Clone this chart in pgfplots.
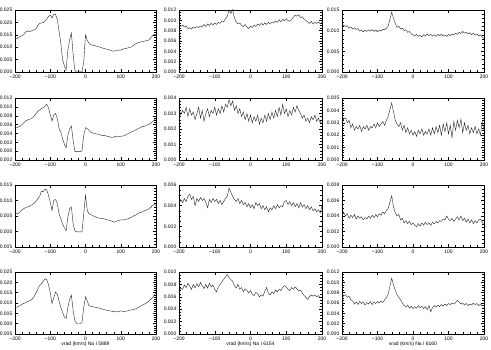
\documentclass[border=0pt]{standalone}
\usepackage{fontspec}
\setmainfont{Liberation Sans}
\usepackage{pgfplots}
\pgfplotsset{compat=1.18}

\pgfplotsset{
  panel/.style={
    scale only axis, height=62pt,
    xmin=-200, xmax=200,
    xtick={-200,-100,0,100,200},
    xticklabels={−200,−100,0,100,200},
    minor x tick num=4, minor y tick num=4,
    tick align=inside,
    major tick length=3pt, minor tick length=1.5pt,
    tick style={line width=0.35pt, black},
    axis line style={line width=0.5pt, black},
    /pgf/number format/assume math mode=true,
    ticklabel style={font=\fontsize{5}{6}\selectfont, inner sep=0pt},
    xticklabel shift=3.2pt, yticklabel shift=2.5pt,
    yticklabel style={/pgf/number format/.cd, fixed, fixed zerofill, precision=3},
    scaled y ticks=false,
    xlabel style={font=\fontsize{5}{6}\selectfont, at={(axis description cs:0.5,0)}, anchor=center, yshift=-10pt},
    cycle list={{black!85, line width=0.45pt, mark=none}},
  },
  c1/.style={panel, width=141pt},
  c2/.style={panel, width=143pt},
  c3/.style={panel, width=142pt},
}

\begin{document}
\begin{tikzpicture}
\path[use as bounding box] (0pt,0pt) rectangle (491pt,-350pt);

% ---------- row 1 ----------
\begin{axis}[c1, at={(15pt,-10pt)}, anchor=north west,
  ymin=0, ymax=0.025, ytick={0,0.005,0.01,0.015,0.02,0.025}]
\addplot coordinates {(-200,0.0136) (-195,0.0134) (-190,0.0140) (-185,0.0143) (-180,0.0146) (-175,0.0152) (-170,0.0160) (-165,0.0166) (-160,0.0162) (-155,0.0165) (-150,0.0168) (-145,0.0170) (-140,0.0175) (-135,0.0188) (-130,0.0196) (-125,0.0198) (-120,0.0199) (-115,0.0206) (-110,0.0213) (-105,0.0224) (-100,0.0229) (-95,0.0218) (-90,0.0234) (-85,0.0232) (-80,0.0212) (-75,0.0165) (-70,0.0115) (-65,0.0050) (-60,0.0025) (-55,0.0008) (-50,0.0088) (-45,0.0130) (-40,0.0157) (-35,0.0070) (-30,0.0005) (-25,0.0000) (-20,0.0000) (-15,0.0001) (-10,0.0000) (-5,0.0040) (0,0.0150) (5,0.0128) (10,0.0116) (15,0.0110) (20,0.0108) (25,0.0107) (30,0.0105) (35,0.0102) (40,0.0101) (45,0.0098) (50,0.0096) (55,0.0094) (60,0.0092) (65,0.0090) (70,0.0088) (75,0.0085) (80,0.0084) (85,0.0086) (90,0.0085) (95,0.0089) (100,0.0088) (105,0.0091) (110,0.0094) (115,0.0095) (120,0.0097) (125,0.0099) (130,0.0101) (135,0.0106) (140,0.0112) (145,0.0116) (150,0.0118) (155,0.0121) (160,0.0122) (165,0.0124) (170,0.0125) (175,0.0127) (180,0.0129) (185,0.0138) (190,0.0146) (195,0.0152) (200,0.0150)};
\end{axis}

\begin{axis}[c2, at={(179pt,-10pt)}, anchor=north west,
  ymin=0, ymax=0.012, ytick={0,0.002,0.004,0.006,0.008,0.01,0.012}, minor y tick num=3]
\addplot coordinates {(-200,0.0093) (-195,0.0088) (-190,0.0091) (-185,0.0087) (-180,0.0089) (-175,0.0084) (-170,0.0086) (-165,0.0083) (-160,0.0087) (-155,0.0085) (-150,0.0088) (-145,0.0086) (-140,0.0089) (-135,0.0087) (-130,0.0092) (-125,0.0088) (-120,0.0093) (-115,0.0090) (-110,0.0094) (-105,0.0091) (-100,0.0095) (-95,0.0092) (-90,0.0096) (-85,0.0094) (-80,0.0099) (-75,0.0097) (-70,0.0103) (-65,0.0108) (-60,0.0120) (-55,0.0113) (-50,0.0121) (-45,0.0105) (-40,0.0097) (-35,0.0093) (-30,0.0095) (-25,0.0090) (-20,0.0088) (-15,0.0092) (-10,0.0087) (-5,0.0084) (0,0.0089) (5,0.0086) (10,0.0091) (15,0.0088) (20,0.0093) (25,0.0090) (30,0.0094) (35,0.0091) (40,0.0095) (45,0.0092) (50,0.0096) (55,0.0093) (60,0.0097) (65,0.0095) (70,0.0099) (75,0.0096) (80,0.0101) (85,0.0097) (90,0.0102) (95,0.0099) (100,0.0103) (105,0.0100) (110,0.0098) (115,0.0102) (120,0.0106) (125,0.0110) (130,0.0108) (135,0.0111) (140,0.0105) (145,0.0107) (150,0.0102) (155,0.0100) (160,0.0097) (165,0.0094) (170,0.0098) (175,0.0093) (180,0.0096) (185,0.0094) (190,0.0097) (195,0.0093) (200,0.0096)};
\end{axis}

\begin{axis}[c3, at={(342pt,-10pt)}, anchor=north west,
  ymin=0, ymax=0.015, ytick={0,0.005,0.01,0.015}]
\addplot coordinates {(-200,0.0105) (-195,0.0113) (-190,0.0110) (-185,0.0112) (-180,0.0106) (-175,0.0109) (-170,0.0104) (-165,0.0107) (-160,0.0103) (-155,0.0105) (-150,0.0099) (-145,0.0102) (-140,0.0097) (-135,0.0101) (-130,0.0098) (-125,0.0102) (-120,0.0099) (-115,0.0103) (-110,0.0098) (-105,0.0102) (-100,0.0097) (-95,0.0101) (-90,0.0099) (-85,0.0104) (-80,0.0102) (-75,0.0106) (-70,0.0111) (-65,0.0128) (-60,0.0145) (-55,0.0130) (-50,0.0118) (-45,0.0108) (-40,0.0111) (-35,0.0104) (-30,0.0106) (-25,0.0100) (-20,0.0102) (-15,0.0096) (-10,0.0098) (-5,0.0092) (0,0.0090) (5,0.0087) (10,0.0091) (15,0.0086) (20,0.0089) (25,0.0085) (30,0.0090) (35,0.0087) (40,0.0092) (45,0.0088) (50,0.0091) (55,0.0087) (60,0.0090) (65,0.0086) (70,0.0091) (75,0.0088) (80,0.0092) (85,0.0087) (90,0.0090) (95,0.0086) (100,0.0091) (105,0.0088) (110,0.0092) (115,0.0089) (120,0.0094) (125,0.0091) (130,0.0096) (135,0.0093) (140,0.0098) (145,0.0094) (150,0.0096) (155,0.0092) (160,0.0095) (165,0.0090) (170,0.0094) (175,0.0089) (180,0.0092) (185,0.0087) (190,0.0090) (195,0.0085) (200,0.0080)};
\end{axis}

% ---------- row 2 ----------
\begin{axis}[c1, at={(15pt,-98pt)}, anchor=north west,
  ymin=-0.002, ymax=0.012, ytick={-0.002,0,0.002,0.004,0.006,0.008,0.01,0.012}, minor y tick num=3]
\addplot coordinates {(-200,0.0052) (-195,0.0053) (-190,0.0055) (-185,0.0057) (-180,0.0060) (-175,0.0064) (-170,0.0068) (-165,0.0070) (-160,0.0072) (-155,0.0073) (-150,0.0075) (-145,0.0080) (-140,0.0085) (-135,0.0090) (-130,0.0093) (-125,0.0096) (-120,0.0098) (-115,0.0101) (-110,0.0106) (-105,0.0098) (-100,0.0082) (-95,0.0068) (-90,0.0082) (-85,0.0085) (-80,0.0074) (-75,0.0051) (-70,0.0043) (-65,0.0028) (-60,0.0016) (-55,0.0008) (-50,0.0035) (-45,0.0051) (-40,0.0057) (-35,0.0024) (-30,-0.0001) (-25,-0.0001) (-20,-0.0001) (-15,-0.0001) (-10,0.0001) (-5,0.0035) (0,0.0053) (5,0.0051) (10,0.0047) (15,0.0043) (20,0.0041) (25,0.0040) (30,0.0039) (35,0.0038) (40,0.0037) (45,0.0036) (50,0.0035) (55,0.0035) (60,0.0034) (65,0.0033) (70,0.0032) (75,0.0031) (80,0.0032) (85,0.0034) (90,0.0033) (95,0.0032) (100,0.0034) (105,0.0034) (110,0.0035) (115,0.0037) (120,0.0039) (125,0.0041) (130,0.0043) (135,0.0045) (140,0.0047) (145,0.0049) (150,0.0051) (155,0.0053) (160,0.0055) (165,0.0056) (170,0.0057) (175,0.0059) (180,0.0060) (185,0.0063) (190,0.0066) (195,0.0070) (200,0.0074)};
\end{axis}

\begin{axis}[c2, at={(179pt,-98pt)}, anchor=north west,
  ymin=0, ymax=0.004, ytick={0,0.001,0.002,0.003,0.004}]
\addplot coordinates {(-200,0.0034) (-195,0.0029) (-190,0.0032) (-185,0.0030) (-180,0.0034) (-175,0.0028) (-170,0.0033) (-165,0.0029) (-160,0.0031) (-155,0.0026) (-150,0.0030) (-145,0.0034) (-140,0.0027) (-135,0.0032) (-130,0.0025) (-125,0.0030) (-120,0.0033) (-115,0.0028) (-110,0.0032) (-105,0.0030) (-100,0.0034) (-95,0.0029) (-90,0.0033) (-85,0.0030) (-80,0.0035) (-75,0.0031) (-70,0.0036) (-65,0.0034) (-60,0.0039) (-55,0.0035) (-50,0.0038) (-45,0.0032) (-40,0.0035) (-35,0.0030) (-30,0.0033) (-25,0.0028) (-20,0.0031) (-15,0.0026) (-10,0.0030) (-5,0.0025) (0,0.0029) (5,0.0024) (10,0.0028) (15,0.0025) (20,0.0029) (25,0.0023) (30,0.0027) (35,0.0024) (40,0.0029) (45,0.0025) (50,0.0030) (55,0.0026) (60,0.0031) (65,0.0027) (70,0.0032) (75,0.0028) (80,0.0034) (85,0.0029) (90,0.0036) (95,0.0030) (100,0.0033) (105,0.0028) (110,0.0032) (115,0.0029) (120,0.0034) (125,0.0031) (130,0.0035) (135,0.0032) (140,0.0030) (145,0.0027) (150,0.0029) (155,0.0025) (160,0.0027) (165,0.0024) (170,0.0028) (175,0.0026) (180,0.0029) (185,0.0025) (190,0.0027) (195,0.0024) (200,0.0026)};
\end{axis}

\begin{axis}[c3, at={(342pt,-98pt)}, anchor=north west,
  ymin=0, ymax=0.005, ytick={0,0.001,0.002,0.003,0.004,0.005}]
\addplot coordinates {(-200,0.0031) (-195,0.0033) (-190,0.0034) (-185,0.0030) (-180,0.0032) (-175,0.0026) (-170,0.0029) (-165,0.0024) (-160,0.0027) (-155,0.0025) (-150,0.0028) (-145,0.0023) (-140,0.0027) (-135,0.0025) (-130,0.0028) (-125,0.0024) (-120,0.0027) (-115,0.0026) (-110,0.0029) (-105,0.0026) (-100,0.0030) (-95,0.0027) (-90,0.0029) (-85,0.0031) (-80,0.0028) (-75,0.0032) (-70,0.0035) (-65,0.0041) (-60,0.0046) (-55,0.0039) (-50,0.0032) (-45,0.0029) (-40,0.0027) (-35,0.0030) (-30,0.0024) (-25,0.0028) (-20,0.0022) (-15,0.0026) (-10,0.0021) (-5,0.0024) (0,0.0020) (5,0.0023) (10,0.0019) (15,0.0024) (20,0.0021) (25,0.0025) (30,0.0020) (35,0.0023) (40,0.0021) (45,0.0025) (50,0.0020) (55,0.0026) (60,0.0021) (65,0.0027) (70,0.0022) (75,0.0028) (80,0.0020) (85,0.0029) (90,0.0023) (95,0.0030) (100,0.0021) (105,0.0028) (110,0.0018) (115,0.0031) (120,0.0024) (125,0.0032) (130,0.0026) (135,0.0033) (140,0.0022) (145,0.0030) (150,0.0024) (155,0.0028) (160,0.0021) (165,0.0026) (170,0.0022) (175,0.0027) (180,0.0021) (185,0.0025) (190,0.0020) (195,0.0031) (200,0.0024)};
\end{axis}

% ---------- row 3 ----------
\begin{axis}[c1, at={(15pt,-185pt)}, anchor=north west,
  ymin=-0.005, ymax=0.015, ytick={-0.005,0,0.005,0.01,0.015}]
\addplot coordinates {(-200,0.0057) (-195,0.0058) (-190,0.0059) (-185,0.0064) (-180,0.0070) (-175,0.0074) (-170,0.0077) (-165,0.0079) (-160,0.0081) (-155,0.0084) (-150,0.0087) (-145,0.0092) (-140,0.0098) (-135,0.0106) (-130,0.0114) (-125,0.0131) (-120,0.0128) (-115,0.0137) (-110,0.0134) (-105,0.0117) (-100,0.0095) (-95,0.0068) (-90,0.0101) (-85,0.0103) (-80,0.0090) (-75,0.0057) (-70,0.0041) (-65,0.0024) (-60,0.0013) (-55,0.0002) (-50,0.0046) (-45,0.0073) (-40,0.0079) (-35,0.0024) (-30,0.0002) (-25,-0.0001) (-20,-0.0001) (-15,-0.0001) (-10,-0.0001) (-5,0.0057) (0,0.0117) (5,0.0068) (10,0.0057) (15,0.0054) (20,0.0052) (25,0.0049) (30,0.0046) (35,0.0044) (40,0.0043) (45,0.0042) (50,0.0041) (55,0.0040) (60,0.0038) (65,0.0037) (70,0.0035) (75,0.0033) (80,0.0030) (85,0.0032) (90,0.0034) (95,0.0036) (100,0.0038) (105,0.0037) (110,0.0038) (115,0.0039) (120,0.0041) (125,0.0043) (130,0.0046) (135,0.0049) (140,0.0052) (145,0.0055) (150,0.0059) (155,0.0061) (160,0.0063) (165,0.0066) (170,0.0068) (175,0.0070) (180,0.0073) (185,0.0078) (190,0.0084) (195,0.0087) (200,0.0084)};
\end{axis}

\begin{axis}[c2, at={(179pt,-185pt)}, anchor=north west,
  ymin=0, ymax=0.006, ytick={0,0.002,0.004,0.006}, minor y tick num=3]
\addplot coordinates {(-200,0.0042) (-195,0.0046) (-190,0.0043) (-185,0.0047) (-180,0.0044) (-175,0.0049) (-170,0.0051) (-165,0.0046) (-160,0.0049) (-155,0.0040) (-150,0.0047) (-145,0.0044) (-140,0.0048) (-135,0.0045) (-130,0.0047) (-125,0.0043) (-120,0.0038) (-115,0.0046) (-110,0.0043) (-105,0.0047) (-100,0.0044) (-95,0.0046) (-90,0.0042) (-85,0.0045) (-80,0.0041) (-75,0.0044) (-70,0.0047) (-65,0.0049) (-60,0.0057) (-55,0.0053) (-50,0.0049) (-45,0.0046) (-40,0.0044) (-35,0.0047) (-30,0.0042) (-25,0.0045) (-20,0.0041) (-15,0.0043) (-10,0.0039) (-5,0.0042) (0,0.0038) (5,0.0041) (10,0.0037) (15,0.0043) (20,0.0040) (25,0.0042) (30,0.0037) (35,0.0040) (40,0.0036) (45,0.0039) (50,0.0034) (55,0.0038) (60,0.0036) (65,0.0040) (70,0.0037) (75,0.0041) (80,0.0038) (85,0.0040) (90,0.0039) (95,0.0044) (100,0.0045) (105,0.0041) (110,0.0044) (115,0.0040) (120,0.0043) (125,0.0039) (130,0.0042) (135,0.0038) (140,0.0043) (145,0.0039) (150,0.0041) (155,0.0037) (160,0.0040) (165,0.0036) (170,0.0039) (175,0.0035) (180,0.0037) (185,0.0034) (190,0.0036) (195,0.0033) (200,0.0040)};
\end{axis}

\begin{axis}[c3, at={(342pt,-185pt)}, anchor=north west,
  ymin=0, ymax=0.008, ytick={0,0.002,0.004,0.006,0.008}, minor y tick num=3]
\addplot coordinates {(-200,0.0041) (-195,0.0044) (-190,0.0040) (-185,0.0043) (-180,0.0037) (-175,0.0041) (-170,0.0038) (-165,0.0042) (-160,0.0036) (-155,0.0040) (-150,0.0037) (-145,0.0039) (-140,0.0035) (-135,0.0038) (-130,0.0036) (-125,0.0040) (-120,0.0037) (-115,0.0041) (-110,0.0038) (-105,0.0042) (-100,0.0039) (-95,0.0043) (-90,0.0041) (-85,0.0045) (-80,0.0043) (-75,0.0047) (-70,0.0050) (-65,0.0058) (-60,0.0066) (-55,0.0052) (-50,0.0044) (-45,0.0040) (-40,0.0042) (-35,0.0035) (-30,0.0037) (-25,0.0031) (-20,0.0034) (-15,0.0030) (-10,0.0033) (-5,0.0029) (0,0.0031) (5,0.0028) (10,0.0026) (15,0.0030) (20,0.0027) (25,0.0031) (30,0.0028) (35,0.0032) (40,0.0029) (45,0.0031) (50,0.0028) (55,0.0032) (60,0.0030) (65,0.0033) (70,0.0031) (75,0.0034) (80,0.0033) (85,0.0036) (90,0.0035) (95,0.0040) (100,0.0036) (105,0.0034) (110,0.0037) (115,0.0033) (120,0.0036) (125,0.0039) (130,0.0035) (135,0.0040) (140,0.0034) (145,0.0037) (150,0.0032) (155,0.0036) (160,0.0031) (165,0.0035) (170,0.0030) (175,0.0034) (180,0.0031) (185,0.0035) (190,0.0036) (195,0.0032) (200,0.0029)};
\end{axis}

% ---------- row 4 ----------
\begin{axis}[c1, at={(15pt,-272pt)}, anchor=north west,
  ymin=-0.005, ymax=0.025, ytick={-0.005,0,0.005,0.01,0.015,0.02,0.025},
  xlabel={vrad (km/s) Na I 5889}]
\addplot coordinates {(-200,0.0078) (-195,0.0080) (-190,0.0083) (-185,0.0088) (-180,0.0094) (-175,0.0098) (-170,0.0102) (-165,0.0106) (-160,0.0110) (-155,0.0114) (-150,0.0121) (-145,0.0134) (-140,0.0150) (-135,0.0168) (-130,0.0185) (-125,0.0193) (-120,0.0205) (-115,0.0217) (-110,0.0213) (-105,0.0189) (-100,0.0150) (-95,0.0097) (-90,0.0126) (-85,0.0153) (-80,0.0142) (-75,0.0110) (-70,0.0078) (-65,0.0054) (-60,0.0033) (-55,0.0025) (-50,0.0078) (-45,0.0118) (-40,0.0138) (-35,0.0062) (-30,0.0014) (-25,0.0001) (-20,0.0001) (-15,0.0001) (-10,0.0006) (-5,0.0078) (0,0.0130) (5,0.0110) (10,0.0086) (15,0.0084) (20,0.0083) (25,0.0080) (30,0.0078) (35,0.0077) (40,0.0075) (45,0.0072) (50,0.0070) (55,0.0067) (60,0.0065) (65,0.0063) (70,0.0062) (75,0.0060) (80,0.0059) (85,0.0058) (90,0.0057) (95,0.0059) (100,0.0062) (105,0.0060) (110,0.0059) (115,0.0061) (120,0.0062) (125,0.0065) (130,0.0067) (135,0.0068) (140,0.0070) (145,0.0074) (150,0.0078) (155,0.0084) (160,0.0089) (165,0.0093) (170,0.0097) (175,0.0103) (180,0.0110) (185,0.0118) (190,0.0126) (195,0.0138) (200,0.0150)};
\end{axis}

\begin{axis}[c2, at={(179pt,-272pt)}, anchor=north west,
  ymin=0, ymax=0.01, ytick={0,0.002,0.004,0.006,0.008,0.01}, minor y tick num=3,
  xlabel={vrad (km/s) Na I 6154}]
\addplot coordinates {(-200,0.0068) (-195,0.0074) (-190,0.0072) (-185,0.0079) (-180,0.0075) (-175,0.0082) (-170,0.0077) (-165,0.0072) (-160,0.0080) (-155,0.0074) (-150,0.0081) (-145,0.0076) (-140,0.0083) (-135,0.0078) (-130,0.0073) (-125,0.0080) (-120,0.0074) (-115,0.0082) (-110,0.0076) (-105,0.0079) (-100,0.0072) (-95,0.0068) (-90,0.0076) (-85,0.0080) (-80,0.0084) (-75,0.0088) (-70,0.0092) (-65,0.0096) (-60,0.0091) (-55,0.0088) (-50,0.0085) (-45,0.0078) (-40,0.0074) (-35,0.0080) (-30,0.0072) (-25,0.0075) (-20,0.0068) (-15,0.0073) (-10,0.0070) (-5,0.0066) (0,0.0070) (5,0.0064) (10,0.0062) (15,0.0067) (20,0.0065) (25,0.0060) (30,0.0063) (35,0.0061) (40,0.0069) (45,0.0075) (50,0.0066) (55,0.0063) (60,0.0068) (65,0.0065) (70,0.0071) (75,0.0068) (80,0.0072) (85,0.0070) (90,0.0075) (95,0.0078) (100,0.0076) (105,0.0072) (110,0.0070) (115,0.0075) (120,0.0072) (125,0.0076) (130,0.0073) (135,0.0069) (140,0.0071) (145,0.0066) (150,0.0062) (155,0.0059) (160,0.0056) (165,0.0060) (170,0.0063) (175,0.0061) (180,0.0063) (185,0.0060) (190,0.0062) (195,0.0058) (200,0.0060)};
\end{axis}

\begin{axis}[c3, at={(342pt,-272pt)}, anchor=north west,
  ymin=0, ymax=0.012, ytick={0,0.002,0.004,0.006,0.008,0.01,0.012}, minor y tick num=3,
  xlabel={vrad (km/s) Na I 6160}]
\addplot coordinates {(-200,0.0070) (-195,0.0074) (-190,0.0076) (-185,0.0071) (-180,0.0073) (-175,0.0066) (-170,0.0064) (-165,0.0058) (-160,0.0062) (-155,0.0057) (-150,0.0063) (-145,0.0059) (-140,0.0062) (-135,0.0056) (-130,0.0061) (-125,0.0058) (-120,0.0063) (-115,0.0057) (-110,0.0062) (-105,0.0059) (-100,0.0063) (-95,0.0060) (-90,0.0064) (-85,0.0061) (-80,0.0066) (-75,0.0070) (-70,0.0077) (-65,0.0092) (-60,0.0108) (-55,0.0095) (-50,0.0085) (-45,0.0076) (-40,0.0071) (-35,0.0066) (-30,0.0060) (-25,0.0055) (-20,0.0052) (-15,0.0056) (-10,0.0050) (-5,0.0054) (0,0.0049) (5,0.0053) (10,0.0050) (15,0.0055) (20,0.0051) (25,0.0054) (30,0.0049) (35,0.0053) (40,0.0047) (45,0.0055) (50,0.0043) (55,0.0051) (60,0.0055) (65,0.0052) (70,0.0056) (75,0.0053) (80,0.0057) (85,0.0054) (90,0.0058) (95,0.0055) (100,0.0059) (105,0.0057) (110,0.0060) (115,0.0058) (120,0.0061) (125,0.0065) (130,0.0062) (135,0.0058) (140,0.0060) (145,0.0056) (150,0.0059) (155,0.0055) (160,0.0058) (165,0.0056) (170,0.0060) (175,0.0057) (180,0.0059) (185,0.0055) (190,0.0058) (195,0.0054) (200,0.0056)};
\end{axis}
\end{tikzpicture}
\end{document}
